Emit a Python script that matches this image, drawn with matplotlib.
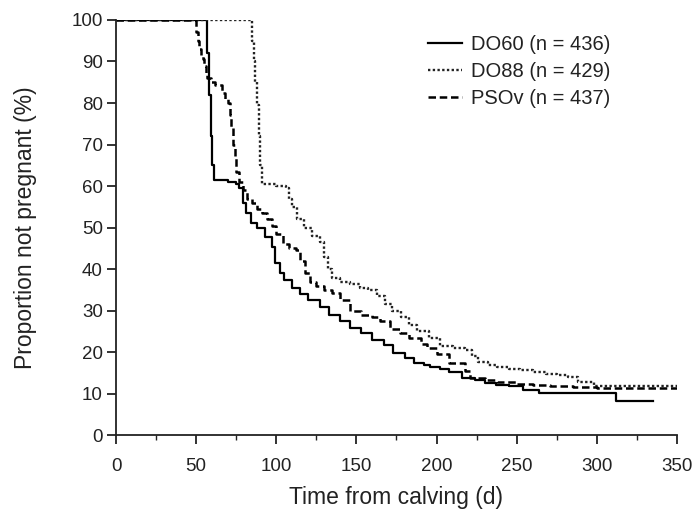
import matplotlib.pyplot as plt
from matplotlib.ticker import MultipleLocator

plt.rcParams['font.family'] = ['Liberation Sans', 'DejaVu Sans']

# step points (days, % not pregnant)
do60_t = [0, 57, 58, 59, 60, 61, 70, 75, 77, 79, 81, 84, 88, 93, 97, 99, 102, 105,
          110, 115, 120, 127, 133, 140, 146, 153, 160, 167, 173, 180, 186, 192, 196,
          202, 208, 216, 224, 230, 237, 245, 254, 264, 312, 335]
do60_s = [100, 92, 82, 72, 65, 61.5, 61, 60.5, 59.5, 56, 53.5, 51, 49.9, 47.7, 45.3,
          41.4, 39, 37.3, 35.5, 34, 32.5, 30.8, 29, 27.5, 25.8, 24.5, 23, 21.8, 19.8,
          18.5, 17.5, 17, 16.5, 16, 15.2, 13.7, 13.2, 12.6, 12, 11.8, 11, 10.1, 8.2, 8.2]

do88_t = [0, 85, 86, 87, 88, 89, 90, 91, 100, 106, 108, 110, 113, 117, 122, 127, 130,
          132, 135, 140, 146, 152, 157, 163, 168, 172, 178, 183, 188, 195, 202, 210,
          218, 222, 226, 232, 238, 245, 252, 260, 268, 275, 282, 288, 298, 350]
do88_s = [100, 95, 90, 85, 79.5, 72, 65, 60.5, 60, 59.5, 57, 55, 52, 50, 48, 46.5,
          43, 40, 37.8, 37, 36.5, 35.5, 35, 33.5, 31.5, 30, 28.5, 26.5, 25, 23.5, 21.5,
          21, 20.5, 19, 17.6, 17, 16.5, 16, 15.7, 15.2, 14.8, 14.5, 14, 12.8, 11.8, 11.8]

psov_t = [0, 50, 51, 52, 53, 54, 55, 56, 57, 59, 62, 66, 68, 70, 71, 72, 73, 74, 75,
          77, 79, 82, 85, 88, 91, 94, 97, 100, 104, 108, 112, 115, 118, 121, 125, 130,
          135, 140, 146, 153, 160, 165, 171, 177, 183, 190, 194, 200, 208, 215, 218,
          221, 230, 238, 250, 260, 271, 285, 300, 350]
psov_s = [100, 97, 95, 93, 91.5, 90.5, 89, 87, 86, 85, 84.3, 82.5, 81, 80, 77, 74, 70,
          67, 63.5, 61, 59, 57, 56, 54.5, 53.5, 52, 50.5, 48.5, 46, 45, 44.5, 42, 39,
          37, 36, 35, 34.2, 32.5, 30, 29, 28.4, 27.5, 25.5, 24.6, 23.5, 22, 21, 19.5,
          17.5, 17.3, 15.5, 13.7, 13.3, 12.8, 12.4, 12, 11.8, 11.5, 11.3, 11.3]

labels = ['DO60 (n = 436)', 'DO88 (n = 429)', 'PSOv (n = 437)']

fig = plt.figure(figsize=(6.95, 5.12), dpi=100)
ax = fig.add_axes([0.167, 0.150, 0.807, 0.811])

ax.plot(do60_t, do60_s, drawstyle='steps-post', color='black', lw=1.6,
        label=labels[0])
ax.plot(do88_t, do88_s, drawstyle='steps-post', color='#222222', lw=1.7,
        linestyle=(0, (1, 1)), label=labels[1])
ax.plot(psov_t, psov_s, drawstyle='steps-post', color='black', lw=1.8,
        linestyle=(0, (3, 1.5)), label=labels[2])

ax.set_xlim(0, 350)
ax.set_ylim(0, 100)
ax.xaxis.set_major_locator(MultipleLocator(50))
ax.xaxis.set_minor_locator(MultipleLocator(25))
ax.yaxis.set_major_locator(MultipleLocator(10))
for s in ['top', 'right']:
    ax.spines[s].set_visible(False)
for s in ['left', 'bottom']:
    ax.spines[s].set_linewidth(1.3)
    ax.spines[s].set_color('#222222')
ax.tick_params(which='major', length=6.5, width=1.3, labelsize=13.5,
               color='#222222', labelcolor='#222222')
ax.tick_params(which='minor', length=3.8, width=1.0, color='#222222')
ax.tick_params(axis='y', pad=3)
ax.tick_params(axis='x', pad=10)

ax.set_xlabel('Time from calving (d)', fontsize=16.5, labelpad=8, color='#222222')
ax.set_ylabel('Proportion not pregnant (%)', fontsize=16.5, labelpad=25,
              color='#222222')

fig.legend(loc='upper left', bbox_to_anchor=(0.590, 0.967), frameon=False,
           fontsize=14.5, handlelength=1.7, handletextpad=0.45, labelspacing=0.4,
           labelcolor='#222222')

fig.savefig('out.png', dpi=100)
